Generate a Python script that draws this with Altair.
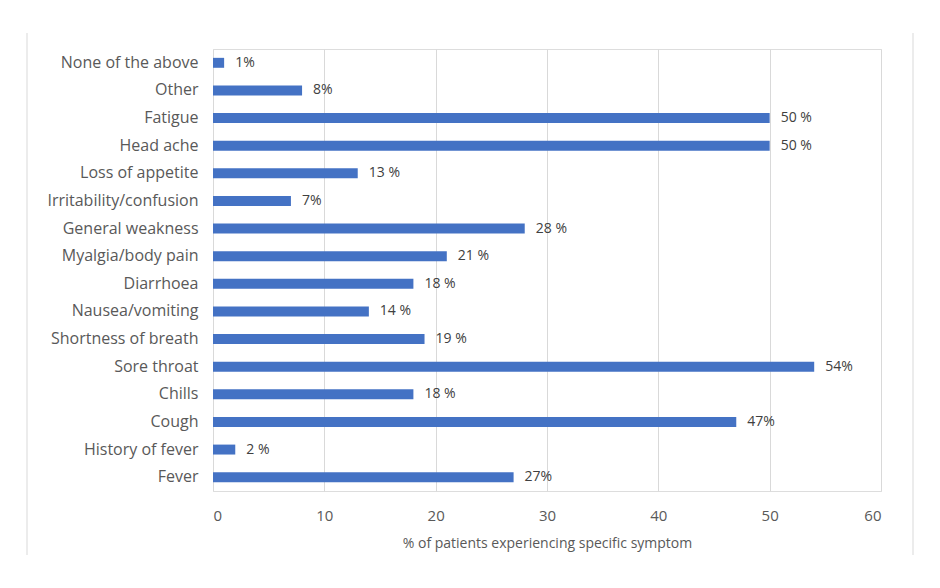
import altair as alt
import pandas as pd

symptoms = ["None of the above", "Other", "Fatigue", "Head ache", "Loss of appetite",
            "Irritability/confusion", "General weakness", "Myalgia/body pain", "Diarrhoea",
            "Nausea/vomiting", "Shortness of breath", "Sore throat", "Chills", "Cough",
            "History of fever", "Fever"]
values = [1, 8, 50, 50, 13, 7, 28, 21, 18, 14, 19, 54, 18, 47, 2, 27]
labels = ["1%", "8%", "50 %", "50 %", "13 %", "7%", "28 %", "21 %", "18 %", "14 %",
          "19 %", "54%", "18 %", "47%", "2 %", "27%"]
x_ticks = [0, 10, 20, 30, 40, 50, 60]

df = pd.DataFrame({"symptom": symptoms, "value": values, "label": labels})

FONT = "Open Sans"
GREY = "#595959"

x_enc = alt.X("value:Q",
              scale=alt.Scale(domain=[0, 60], nice=False),
              axis=alt.Axis(values=x_ticks, grid=True, gridColor="#d9d9d9", domain=False,
                            ticks=False, labelFont=FONT, labelFontSize=15, labelColor=GREY,
                            labelPadding=17, title="% of patients experiencing specific symptom",
                            titleFont=FONT, titleFontSize=14, titleColor=GREY,
                            titleFontWeight="normal", titlePadding=13))
y_enc = alt.Y("symptom:N", sort=symptoms,
              scale=alt.Scale(paddingInner=0.64),
              axis=alt.Axis(title=None, domain=False, ticks=False, grid=False,
                            labelFont=FONT, labelFontSize=16, labelColor=GREY,
                            labelPadding=15))

bars = alt.Chart(df).mark_bar(color="#4472C4").encode(x=x_enc, y=y_enc)
text = alt.Chart(df).mark_text(align="left", baseline="middle", dx=11, font=FONT,
                               fontSize=14, color="#404040").encode(
    x="value:Q", y=alt.Y("symptom:N", sort=symptoms), text="label:N")

frame = alt.Chart(pd.DataFrame({"k": [0]})).mark_rule(color="#d9d9d9", strokeWidth=1).encode(
    x=alt.value(-186), y=alt.value(-16), y2=alt.value(506))
frame2 = alt.Chart(pd.DataFrame({"k": [0]})).mark_rule(color="#d9d9d9", strokeWidth=1).encode(
    x=alt.value(700), y=alt.value(-16), y2=alt.value(506))

chart = alt.layer(frame, frame2, bars, text).properties(
    width=668, height=442,
    autosize=alt.AutoSizeParams(type="none"),
    padding={"left": 213, "top": 49, "right": 59, "bottom": 97},
).configure_view(stroke=None).configure(background="white")

chart.save("out.html", embed_options={"renderer": "svg", "actions": False})
